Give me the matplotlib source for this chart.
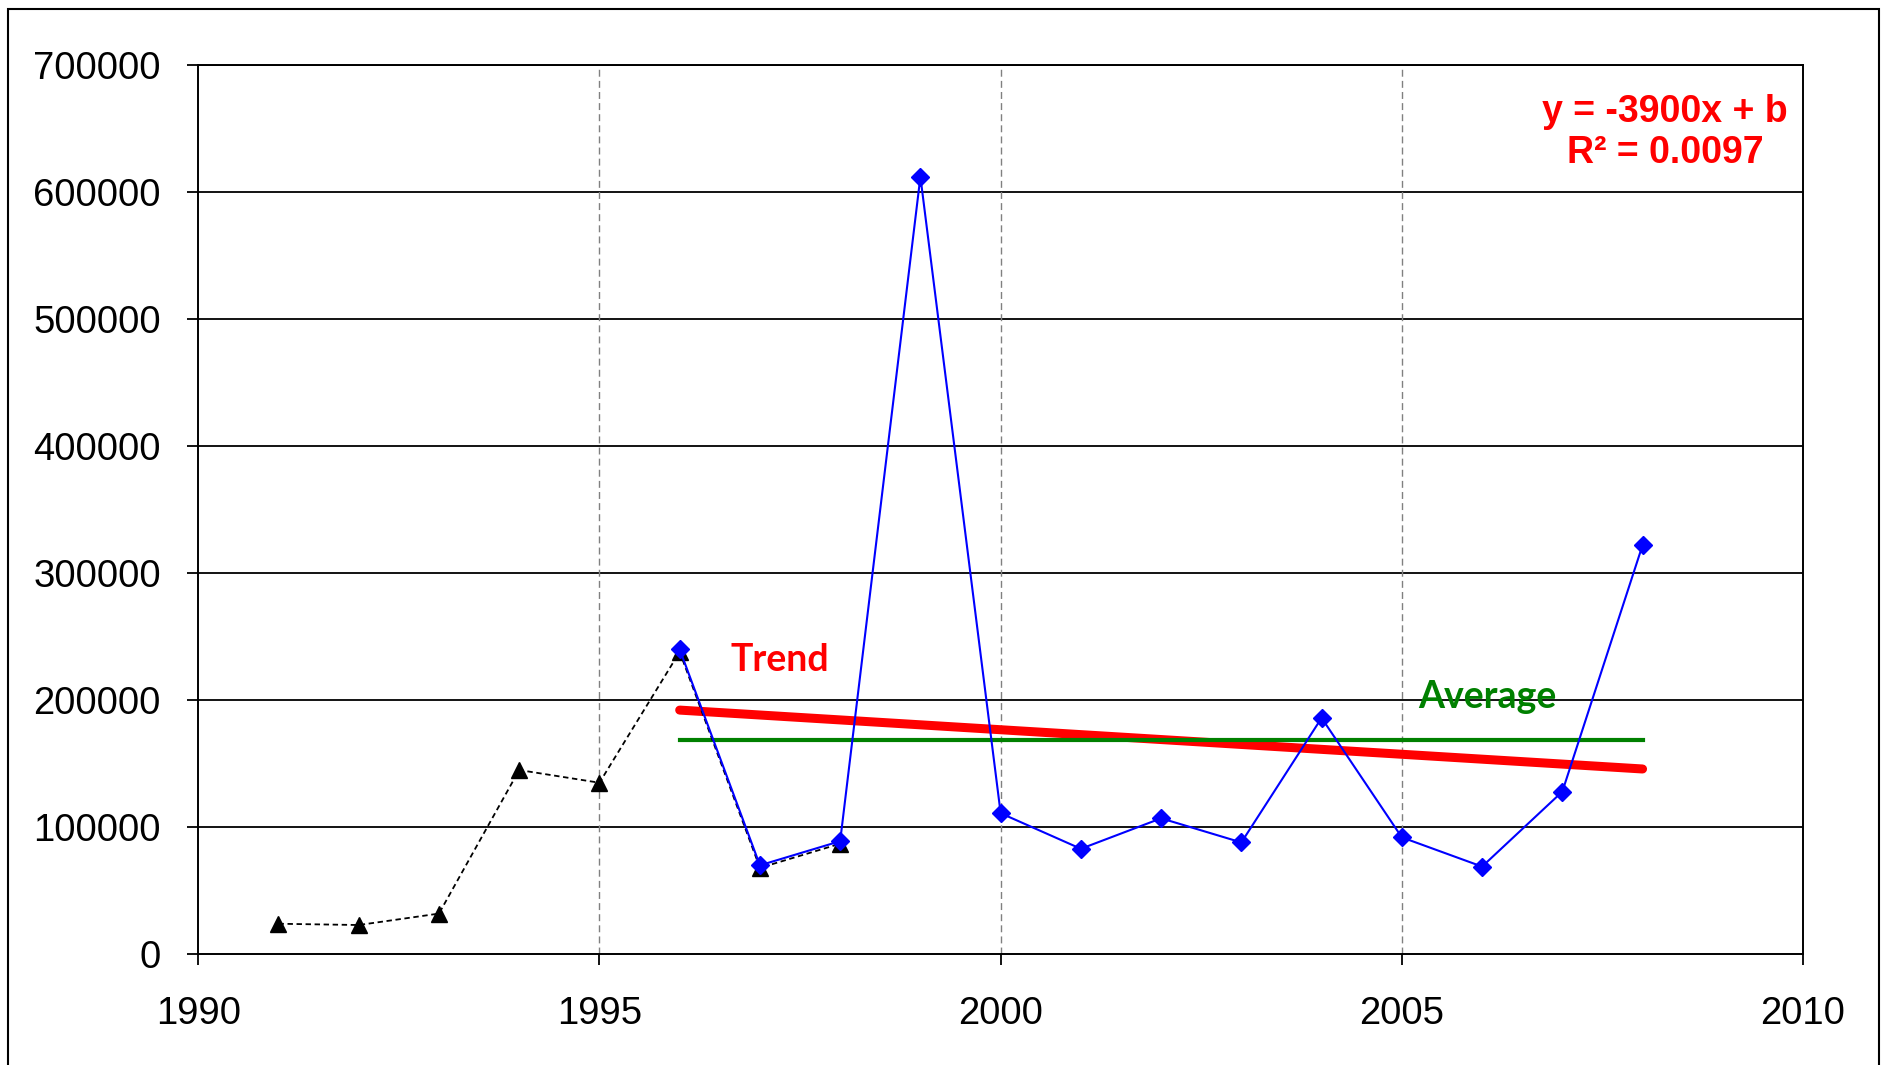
import numpy as np
import matplotlib
matplotlib.use("Agg")
import matplotlib.pyplot as plt
from matplotlib.patches import Rectangle

plt.rcParams["font.family"] = ["Liberation Sans", "DejaVu Sans"]

# early years (black triangles, dashed)
early_years = [1991, 1992, 1993, 1994, 1995, 1996, 1997, 1998]
early_vals = [24000, 23000, 32000, 145000, 135000, 238000, 68000, 87000]

# main series (blue diamonds)
years = [1996, 1997, 1998, 1999, 2000, 2001, 2002, 2003, 2004, 2005, 2006, 2007, 2008]
vals = [240000, 70000, 89000, 612000, 111000, 83000, 107000, 88000, 186000,
        92000, 69000, 128000, 322000]

y_ticks = [0, 100000, 200000, 300000, 400000, 500000, 600000, 700000]
x_ticks = [1990, 1995, 2000, 2005, 2010]

fig = plt.figure(figsize=(18.88, 10.65), dpi=100)
ax = fig.add_axes([0.105, 0.104, 0.85, 0.835])

# outer chart frame (bottom edge is cut off)
fig.patches.append(Rectangle((0.0045, -0.05), 0.9905, 1.042, transform=fig.transFigure,
                             fill=False, edgecolor="black", linewidth=1.5))

# grid
for yv in y_ticks[1:]:
    ax.axhline(yv, color="black", linewidth=1.3, zorder=1)
for xv in x_ticks[1:-1]:
    ax.axvline(xv, color="#808080", linewidth=1.0, linestyle=(0, (5, 3)), zorder=1)

# trend + average over the main period
slope, icpt = np.polyfit(years, vals, 1)
xs = np.array([years[0], years[-1]])
avg = np.mean(vals)
ax.plot(xs, slope * xs + icpt, color="#FF0000", linewidth=6.5, solid_capstyle="round", zorder=3)
ax.plot(xs, [avg, avg], color="#008000", linewidth=3, zorder=3)

ax.plot(early_years, early_vals, color="black", linestyle=(0, (3, 2)), linewidth=1.3,
        marker="^", markersize=12, zorder=4)
ax.plot(years, vals, color="#0000FF", linewidth=1.5, marker="D", markersize=9, zorder=5)

ax.text(1996.63, 223000, "Trend", color="#FF0000", fontsize=27, fontweight="bold",
        family=["Lato", "DejaVu Sans"], va="baseline", ha="left", zorder=6)
ax.text(2005.2, 193500, "Average", color="#008000", fontsize=27, fontweight="bold",
        family=["Lato", "DejaVu Sans"], va="baseline", ha="left", zorder=6)

fig.text(0.882, 0.885, "y = -3900x + b", color="#FF0000", fontsize=27, fontweight="bold",
         ha="center", va="baseline")
fig.text(0.882, 0.847, "R² = 0.0097", color="#FF0000", fontsize=27, fontweight="bold",
         ha="center", va="baseline")

ax.set_xlim(1990, 2010)
ax.set_ylim(0, 700000)
ax.set_xticks(x_ticks)
ax.set_yticks(y_ticks)
ax.set_yticklabels([str(v) for v in y_ticks])
ax.set_xticklabels([str(v) for v in x_ticks])
ax.tick_params(axis="both", direction="out", length=8, width=1.3, labelsize=27.5, colors="black")
ax.tick_params(axis="y", pad=19)
ax.tick_params(axis="x", pad=22)
for sp in ax.spines.values():
    sp.set_color("black")
    sp.set_linewidth(1.4)

fig.savefig("out.png", dpi=100, facecolor="white")
